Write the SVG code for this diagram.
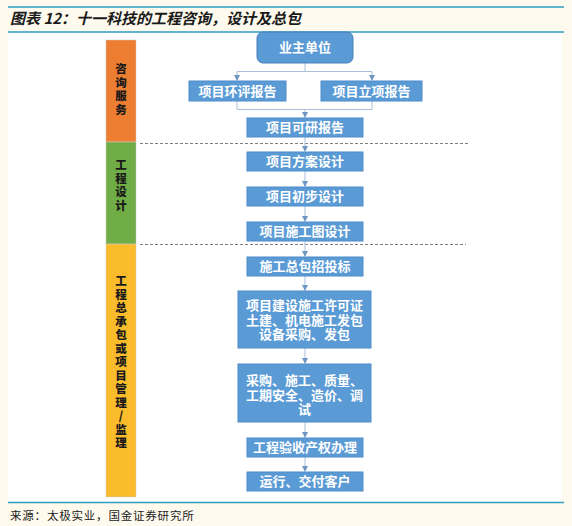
<svg xmlns="http://www.w3.org/2000/svg" width="572" height="526" viewBox="0 0 572 526">
<defs>
<style>
.box{fill:#5b9bd5;stroke:#4f8cc9;stroke-width:1}
.bt{font-family:"Noto Sans CJK SC","Noto Sans",sans-serif;font-size:13px;font-weight:bold;fill:#ffffff;text-anchor:middle}
.side{font-family:"Noto Sans CJK SC","Noto Sans",sans-serif;font-size:11.5px;font-weight:900;fill:#1a1a1a;text-anchor:middle}
.con{fill:none;stroke:#a9bfd9;stroke-width:1}
.dash{fill:none;stroke:#7f7f7f;stroke-width:1;stroke-dasharray:3 2}
.rule{stroke:#2c9dc3;stroke-width:1.5}
</style>
<marker id="ah" markerWidth="6" markerHeight="6" refX="5" refY="3" orient="auto" markerUnits="userSpaceOnUse">
<path d="M0,0 L6,3 L0,6 Z" fill="#6f95c2"/>
</marker>
</defs>
<rect x="0" y="0" width="572" height="526" fill="#fefaee"/>
<rect x="8" y="33" width="554" height="469" fill="#ffffff"/>
<line class="rule" x1="8" y1="7" x2="564" y2="7"/>
<line class="rule" x1="8" y1="32" x2="564" y2="32"/>
<line class="rule" x1="8" y1="502.5" x2="564" y2="502.5"/>
<text x="10" y="24" font-family="'Noto Sans CJK SC',sans-serif" font-size="15" font-style="italic" font-weight="bold" fill="#1a1a1a">图表 12：十一科技的工程咨询，设计及总包</text>
<text x="10" y="520" font-family="'Noto Sans CJK SC',sans-serif" font-size="11.5" letter-spacing="0.8" fill="#1a1a1a">来源：太极实业，国金证券研究所</text>

<g id="phase-consult">
<rect x="106" y="40" width="30" height="102" fill="#ed7d31" stroke="#c9c9c9" stroke-width="0.5"/>
<text class="side"><tspan x="121" y="73">咨</tspan><tspan x="121" y="86.5">询</tspan><tspan x="121" y="100">服</tspan><tspan x="121" y="113.5">务</tspan></text>
</g>
<g id="phase-design">
<rect x="106" y="142" width="30" height="102" fill="#70ad47" stroke="#c9c9c9" stroke-width="0.5"/>
<text class="side"><tspan x="121" y="169">工</tspan><tspan x="121" y="182.5">程</tspan><tspan x="121" y="196">设</tspan><tspan x="121" y="209.5">计</tspan></text>
</g>
<g id="phase-build">
<rect x="106" y="244" width="30" height="253" fill="#fbbc2c" stroke="#c9c9c9" stroke-width="0.5"/>
<text class="side"><tspan x="121" y="285">工</tspan><tspan x="121" y="298.5">程</tspan><tspan x="121" y="312">总</tspan><tspan x="121" y="325.5">承</tspan><tspan x="121" y="339">包</tspan><tspan x="121" y="352.5">或</tspan><tspan x="121" y="366">项</tspan><tspan x="121" y="379.5">目</tspan><tspan x="121" y="393">管</tspan><tspan x="121" y="406.5">理</tspan><tspan x="121" y="420">/</tspan><tspan x="121" y="433.5">监</tspan><tspan x="121" y="447">理</tspan></text>
</g>

<g id="connectors">
<line class="dash" x1="140" y1="143.5" x2="468" y2="143.5"/>
<line class="dash" x1="140" y1="244.5" x2="466" y2="244.5"/>
<path class="con" d="M305,63 V71.5 M237,71.5 H372"/>
<path class="con" d="M237,71.5 V80" marker-end="url(#ah)"/>
<path class="con" d="M372,71.5 V80" marker-end="url(#ah)"/>
<path class="con" d="M237,101 V109.5 H372 V101"/>
<path class="con" d="M305,109.5 V117" marker-end="url(#ah)"/>
<path class="con" d="M305,137 V151" marker-end="url(#ah)"/>
<path class="con" d="M305,171 V186" marker-end="url(#ah)"/>
<path class="con" d="M305,206 V221" marker-end="url(#ah)"/>
<path class="con" d="M305,241 V256" marker-end="url(#ah)"/>
<path class="con" d="M305,276 V290" marker-end="url(#ah)"/>
<path class="con" d="M305,348 V363" marker-end="url(#ah)"/>
<path class="con" d="M305,422 V437" marker-end="url(#ah)"/>
<path class="con" d="M305,457 V471" marker-end="url(#ah)"/>
</g>

<g id="n-owner">
<rect x="257" y="32" width="96" height="31" rx="6" fill="#5b9bd5" stroke="#4a7fb8" stroke-width="1"/>
<text class="bt" x="305" y="52">业主单位</text>
</g>
<g id="n-env">
<rect class="box" x="189" y="81" width="97" height="20"/>
<text class="bt" x="237.5" y="96">项目环评报告</text>
</g>
<g id="n-approve">
<rect class="box" x="321" y="81" width="101" height="20"/>
<text class="bt" x="371.5" y="96">项目立项报告</text>
</g>
<g id="n-feasibility">
<rect class="box" x="247" y="118" width="116" height="19"/>
<text class="bt" x="305" y="132">项目可研报告</text>
</g>
<g id="n-scheme">
<rect class="box" x="247" y="152" width="116" height="19"/>
<text class="bt" x="305" y="166">项目方案设计</text>
</g>
<g id="n-prelim">
<rect class="box" x="247" y="187" width="116" height="19"/>
<text class="bt" x="305" y="201">项目初步设计</text>
</g>
<g id="n-drawing">
<rect class="box" x="247" y="222" width="116" height="19"/>
<text class="bt" x="305" y="236">项目施工图设计</text>
</g>
<g id="n-bidding">
<rect class="box" x="247" y="257" width="116" height="19"/>
<text class="bt" x="305" y="271">施工总包招投标</text>
</g>
<g id="n-permit">
<rect class="box" x="238" y="291" width="133" height="57"/>
<text class="bt"><tspan x="304.5" y="310">项目建设施工许可证</tspan><tspan x="304.5" y="324.5">土建、机电施工发包</tspan><tspan x="304.5" y="339">设备采购、发包</tspan></text>
</g>
<g id="n-construct">
<rect class="box" x="238" y="364" width="133" height="58"/>
<text class="bt"><tspan x="304.5" y="385">采购、施工、质量、</tspan><tspan x="304.5" y="399.5">工期安全、造价、调</tspan><tspan x="304.5" y="414">试</tspan></text>
</g>
<g id="n-accept">
<rect class="box" x="247" y="438" width="116" height="19"/>
<text class="bt" x="305" y="452">工程验收产权办理</text>
</g>
<g id="n-deliver">
<rect class="box" x="247" y="472" width="116" height="19"/>
<text class="bt" x="305" y="486">运行、交付客户</text>
</g>
</svg>
